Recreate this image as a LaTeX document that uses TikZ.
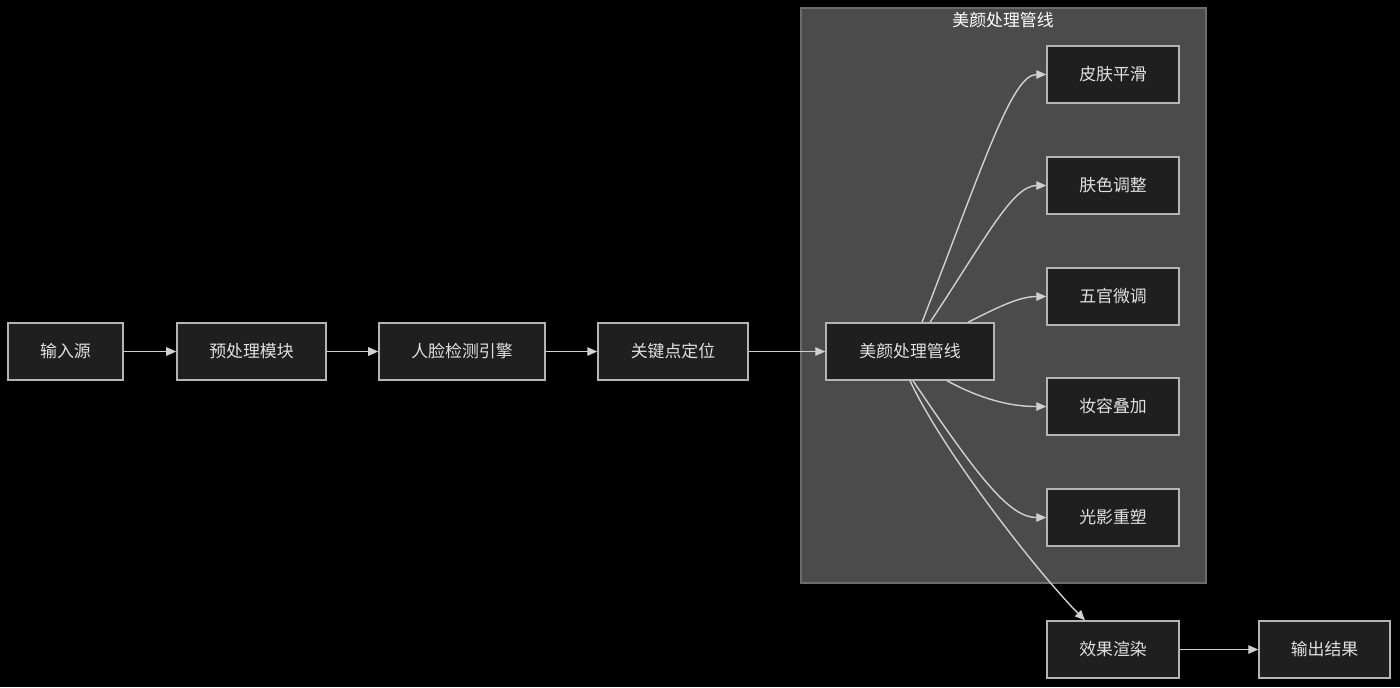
\documentclass[tikz,border=0pt]{standalone}
\usepackage{fontspec}
\setmainfont{Noto Sans CJK SC}
\usetikzlibrary{arrows.meta, positioning, calc}

\definecolor{boxfill}{HTML}{1F1F1F}
\definecolor{boxline}{HTML}{B4B4B4}
\definecolor{boxtext}{HTML}{E0E0E0}
\definecolor{groupfill}{HTML}{4A4B4A}
\definecolor{groupline}{HTML}{6C6C6C}
\definecolor{edgecol}{HTML}{D0D0D0}

\begin{document}
\begin{tikzpicture}[x=0.01cm, y=-0.01cm, font=\fontsize{4.8pt}{6pt}\selectfont]
		\tikzstyle{stage} = [rectangle, draw=boxline, fill=boxfill, text=boxtext, line width=0.4pt, minimum height=0.57cm, inner sep=0, align=center]
		\tikzstyle{tool} = [stage, minimum width=1.32cm]
		\tikzstyle{group} = [rectangle, draw=groupline, fill=groupfill, line width=0.4pt, inner sep=0]

		\tikzstyle{directed_line} = [-{Triangle[length=0.1cm, width=0.085cm]}, draw=edgecol, line width=0.4pt]

		% Background
		\fill[black] (0,0) rectangle (1400,687);

		% Group
		\node[group, minimum width=4.05cm, minimum height=5.75cm](group) at (1003.5,295.5){};
		\node[text=white, inner sep=0](group_title) at (1003,20){美颜处理管线};

		% Main chain
		\node[stage, minimum width=1.15cm](input) at (65.5,351.5){输入源};
		\node[stage, minimum width=1.49cm](prep) at (251.5,351.5){预处理模块};
		\node[stage, minimum width=1.66cm](detect) at (462,351.5){人脸检测引擎};
		\node[stage, minimum width=1.50cm](landmark) at (673,351.5){关键点定位};
		\node[stage, minimum width=1.68cm](pipeline) at (910,351.5){美颜处理管线};

		% Tools
		\node[tool](smooth) at (1113,74.5){皮肤平滑};
		\node[tool](tone) at (1113,185.5){肤色调整};
		\node[tool](features) at (1113,296.5){五官微调};
		\node[tool](makeup) at (1113,406.5){妆容叠加};
		\node[tool](light) at (1113,517.5){光影重塑};

		% Output
		\node[tool](render) at (1113,649.5){效果渲染};
		\node[stage, minimum width=1.31cm](output) at (1324.5,649.5){输出结果};

		\foreach \a/\b in {input/prep, prep/detect, detect/landmark, landmark/pipeline, render/output} {
				\draw[directed_line] (\a.east) -- (\b.west);
			};

		% Fan out of the pipeline
		\draw[directed_line] ($(pipeline.north)+(12,0)$) .. controls (985,160) and (1012,74.5) .. (smooth.west);
		\draw[directed_line] ($(pipeline.north)+(20,0)$) .. controls (985,240) and (1012,185.5) .. (tone.west);
		\draw[directed_line] ($(pipeline.north)+(58,0)$) .. controls (1000,306) and (1020,296.5) .. (features.west);
		\draw[directed_line] ($(pipeline.south)+(37,0)$) .. controls (990,404) and (1020,406.5) .. (makeup.west);
		\draw[directed_line] ($(pipeline.south)+(3,0)$) .. controls (980,480) and (1010,517.5) .. (light.west);
		\draw[directed_line] (pipeline.south) .. controls (945,455) and (1040,575) .. ($(render.north)+(-28,0)$);

	\end{tikzpicture}
\end{document}
